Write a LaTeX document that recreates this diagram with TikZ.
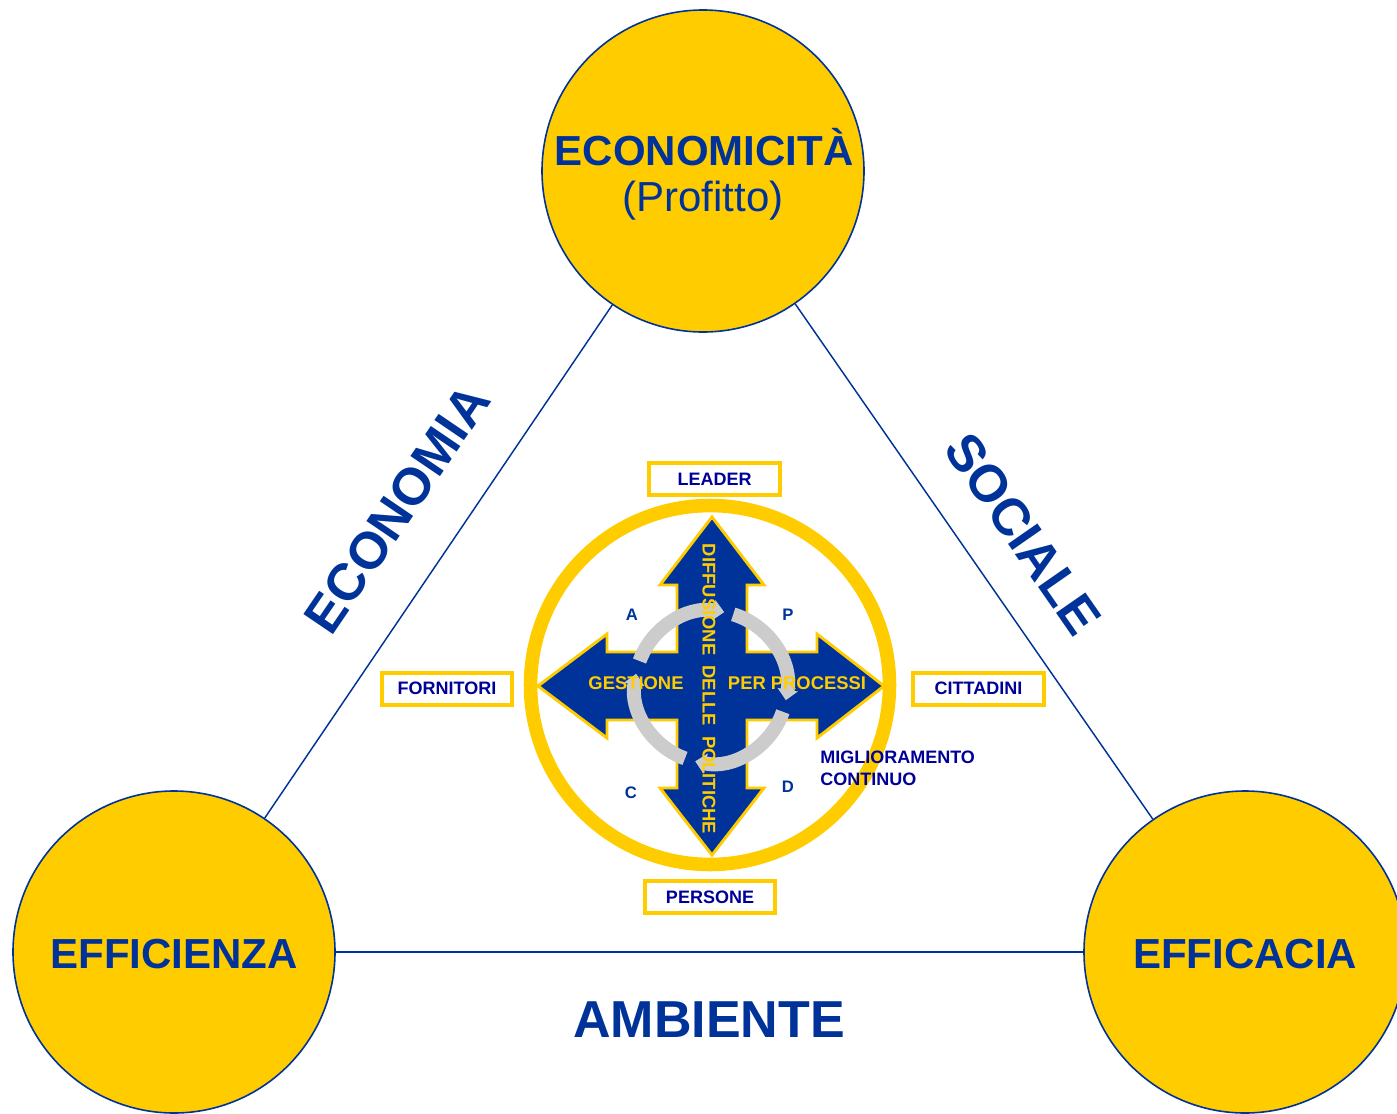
\documentclass[tikz,border=0pt]{standalone}
\usepackage{fontspec}
\setmainfont{Liberation Sans}
\usetikzlibrary{arrows.meta}
\definecolor{gold}{HTML}{FFCC00}
\definecolor{navy}{HTML}{003399}
\definecolor{ink}{HTML}{000099}
\definecolor{ringgray}{HTML}{CCCCCC}
\tikzset{
  bigball/.style={circle, fill=gold, draw=navy, line width=1.2pt, minimum size=241.5pt, inner sep=0pt},
  bigtxt/.style={inner sep=0pt, text=navy, font=\fontsize{31.5pt}{36pt}\selectfont\bfseries},
  sidetxt/.style={inner sep=0pt, text=navy, font=\fontsize{39pt}{44pt}\selectfont\bfseries},
  tri/.style={draw=navy, line width=1.1pt},
  labbox/.style={draw=gold, fill=white, line width=3pt, minimum width=98pt, minimum height=24pt, inner sep=0pt, text=ink, font=\fontsize{13.5pt}{16pt}\selectfont\bfseries},
  crosstxt/.style={inner sep=0pt, text=gold, font=\fontsize{13.8pt}{16pt}\selectfont\bfseries},
  pdca/.style={inner sep=0pt, text=navy, font=\fontsize{12.5pt}{15pt}\selectfont\bfseries},
  cyc/.style={draw=ringgray, line width=10.5pt, -{Triangle[length=8pt,width=15pt]}},
}
\begin{document}
\begin{tikzpicture}[x=0.75pt,y=0.75pt]
\useasboundingbox (0,0) rectangle (1397,-1114);
\clip (0,0) rectangle (1397,-1114);
% big circles
\node[bigball] (top) at (703,-171) {};
\node[bigball] (bl) at (174,-952) {};
\node[bigball] (br) at (1245,-952) {};
\draw[tri] (top) -- (bl);
\draw[tri] (top) -- (br);
\draw[tri] (bl) -- (br);
\node[bigtxt] (t1) at (704,-147) {ECONOMICITÀ};
\node[bigtxt, font=\fontsize{31.5pt}{36pt}\selectfont] (t2) at (703,-201) {(Profitto)};
\node[bigtxt] (t3) at (174,-954) {EFFICIENZA};
\node[bigtxt] (t4) at (1245,-954) {EFFICACIA};
% side labels
\node[sidetxt, rotate=55.8] (eco) at (397,-509) {ECONOMIA};
\node[sidetxt, rotate=-55.2] (soc) at (1023,-534) {SOCIALE};
\node[sidetxt] (amb) at (709,-1020) {AMBIENTE};
% yellow ring
\draw[gold, line width=10.2pt] (710,-685) circle[radius=134.6pt];
% cross
\draw[fill=navy, draw=gold, line width=2.2pt, line join=miter]
  (712,-517) -- (764,-585) -- (747,-585) -- (747,-652) -- (817,-652) -- (817,-634)
  -- (884,-686) -- (817,-738) -- (817,-720) -- (747,-720) -- (747,-788) -- (764,-788)
  -- (712,-855) -- (660,-788) -- (677,-788) -- (677,-720) -- (607,-720) -- (607,-738)
  -- (538,-686) -- (607,-634) -- (607,-652) -- (677,-652) -- (677,-585) -- (660,-585) -- cycle;
% gray cycle arrows
\coordinate (cc) at (711,-687);
\draw[cyc] (cc) ++(160:57pt) arc[start angle=160, end angle=80, radius=57pt];
\draw[cyc] (cc) ++(73:57pt) arc[start angle=73, end angle=-10, radius=57pt];
\draw[cyc] (cc) ++(-19:57pt) arc[start angle=-19, end angle=-102, radius=57pt];
\draw[cyc] (cc) ++(-110:57pt) arc[start angle=-110, end angle=-190, radius=57pt];
% cross texts
\node[crosstxt] (g) at (636,-683) {GESTIONE};
\node[crosstxt] (pp) at (797,-683) {PER PROCESSI};
\node[crosstxt, rotate=-90] (dp) at (709,-689) {DIFFUSIONE\ \ DELLE\ \ POLITICHE};
% PDCA letters
\node[pdca] (la) at (632,-615) {A};
\node[pdca] (lp) at (788,-615) {P};
\node[pdca] (lc) at (631,-793) {C};
\node[pdca] (ld) at (788,-787) {D};
% boxes
\node[labbox] (leader) at (714.5,-479) {LEADER};
\node[labbox] (forn) at (447,-688.5) {FORNITORI};
\node[labbox] (citt) at (978.5,-688.5) {CITTADINI};
\node[labbox] (pers) at (710,-897) {PERSONE};
\node[anchor=north west, inner sep=0pt, align=left, text=ink, font=\fontsize{13.5pt}{16.5pt}\selectfont\bfseries] (mig) at (820,-751) {MIGLIORAMENTO\\CONTINUO};
\end{tikzpicture}
\end{document}
